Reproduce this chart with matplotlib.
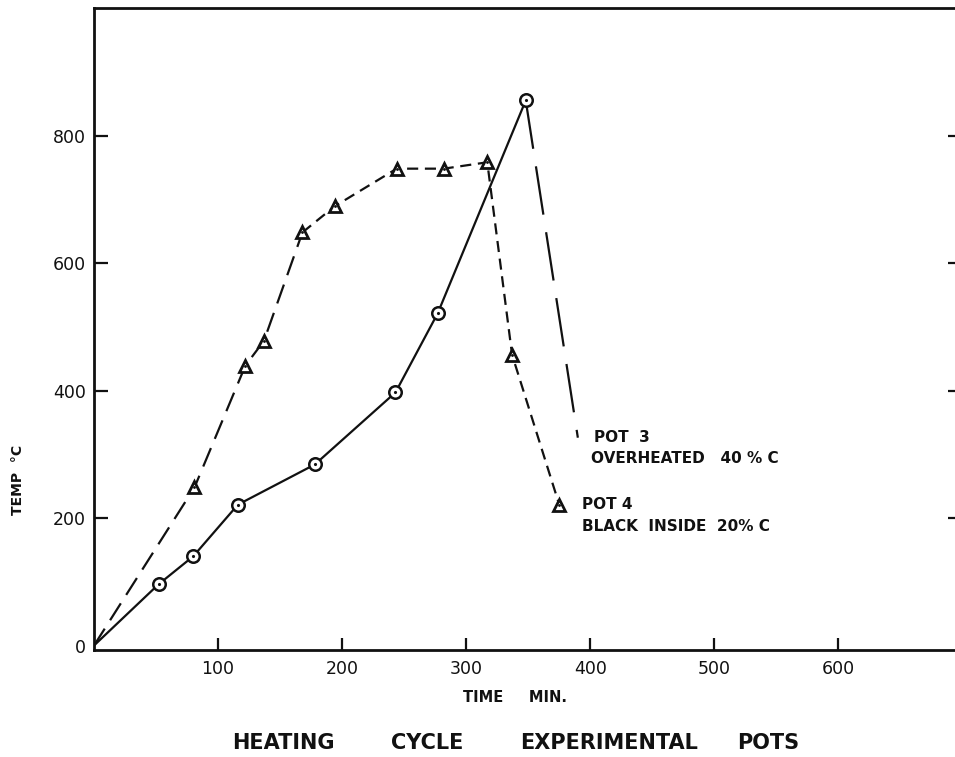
import numpy as np
import matplotlib
matplotlib.use('Agg')
import matplotlib.pyplot as plt

# Pot 3 (overheated) - circles, solid while heating
pot3_time = [0, 52, 80, 116, 178, 243, 277, 348]
pot3_temp = [0, 96, 140, 221, 284, 397, 521, 855]
# Pot 3 cooling (long dashes, no marker at end)
pot3_cool_time = [348, 390]
pot3_cool_temp = [855, 326]

# Pot 4 (black inside) - triangles, dashed
pot4_time = [0, 81, 122, 137, 168, 194, 244, 282, 317, 337, 375]
pot4_temp = [0, 248, 439, 478, 648, 689, 748, 748, 758, 456, 221]

x_ticks = [100, 200, 300, 400, 500, 600]
y_ticks = [0, 200, 400, 600, 800]

plt.rcParams['font.family'] = ['DejaVu Sans']

fig = plt.figure(figsize=(9.55, 7.57), dpi=100)
ax = fig.add_axes([94 / 955, 107 / 757, 861 / 955, 642 / 757])

ink = '#111111'

# pot 3
ax.plot(pot3_time, pot3_temp, color=ink, lw=1.6, zorder=2)
ax.plot(pot3_cool_time, pot3_cool_temp, color=ink, lw=1.6,
        linestyle=(0, (22, 8)), zorder=2)
ax.plot(pot3_time[1:], pot3_temp[1:], linestyle='none', marker='o', ms=9,
        mfc='white', mec=ink, mew=1.8, zorder=3)
ax.plot(pot3_time[1:], pot3_temp[1:], linestyle='none', marker='.', ms=2.5,
        color=ink, zorder=4)

# pot 4
ax.plot(pot4_time[:5], pot4_temp[:5], color=ink, lw=1.6,
        linestyle=(0, (9, 4.5)), zorder=2)
ax.plot(pot4_time[4:], pot4_temp[4:], color=ink, lw=1.6,
        linestyle=(0, (5, 3)), zorder=2)
ax.plot(pot4_time[1:], pot4_temp[1:], linestyle='none', marker='^', ms=9,
        mfc='white', mec=ink, mew=2.0, zorder=3)
ax.plot(pot4_time[1:], pot4_temp[1:], linestyle='none', marker='.', ms=2,
        color=ink, zorder=4)

ax.set_xlim(0, 694)
ax.set_ylim(-7, 1000)

ax.set_xticks(x_ticks)
ax.set_yticks(y_ticks)
ax.set_yticklabels(['0', '200', '400', '600', '800'])
ax.tick_params(axis='x', direction='in', length=9, width=1.6, pad=7,
               labelsize=12.5, colors=ink)
ax.tick_params(axis='y', direction='in', length=10, width=1.6, pad=6,
               labelsize=12.5, colors=ink, right=True)
ax.tick_params(axis='y', which='major', labelright=False)
# short ticks on the right edge, no '0' tick drawn
for t in ax.yaxis.get_major_ticks():
    t.tick2line.set_markersize(5)
ax.yaxis.get_major_ticks()[0].tick1line.set_visible(False)
ax.yaxis.get_major_ticks()[0].tick2line.set_visible(False)

ax.spines['right'].set_visible(False)
for s in ['left', 'top', 'bottom']:
    ax.spines[s].set_linewidth(2)
    ax.spines[s].set_color(ink)

# annotations
note = dict(fontsize=11, color=ink, va='center', fontweight='bold')
ax.text(403, 327, 'POT  3', **note)
ax.text(401, 294, 'OVERHEATED   40 % C', **note)
ax.text(393, 222, 'POT 4', **note)
ax.text(393, 186, 'BLACK  INSIDE  20% C', **note)

fig.text(18 / 955, 1 - 480 / 757, 'TEMP  °C', fontsize=10, fontweight='bold',
         color=ink, rotation=90, ha='center', va='center')
fig.text(515 / 955, 1 - 698 / 757, 'TIME     MIN.', fontsize=10.5,
         fontweight='bold', color=ink, ha='center', va='center')

for word, xc in [('HEATING', 283), ('CYCLE', 427), ('EXPERIMENTAL', 609),
                 ('POTS', 768)]:
    fig.text(xc / 955, 1 - 743 / 757, word, fontsize=15, fontweight='bold',
             color=ink, ha='center', va='center')

fig.savefig('out.png', dpi=100, facecolor='white')
